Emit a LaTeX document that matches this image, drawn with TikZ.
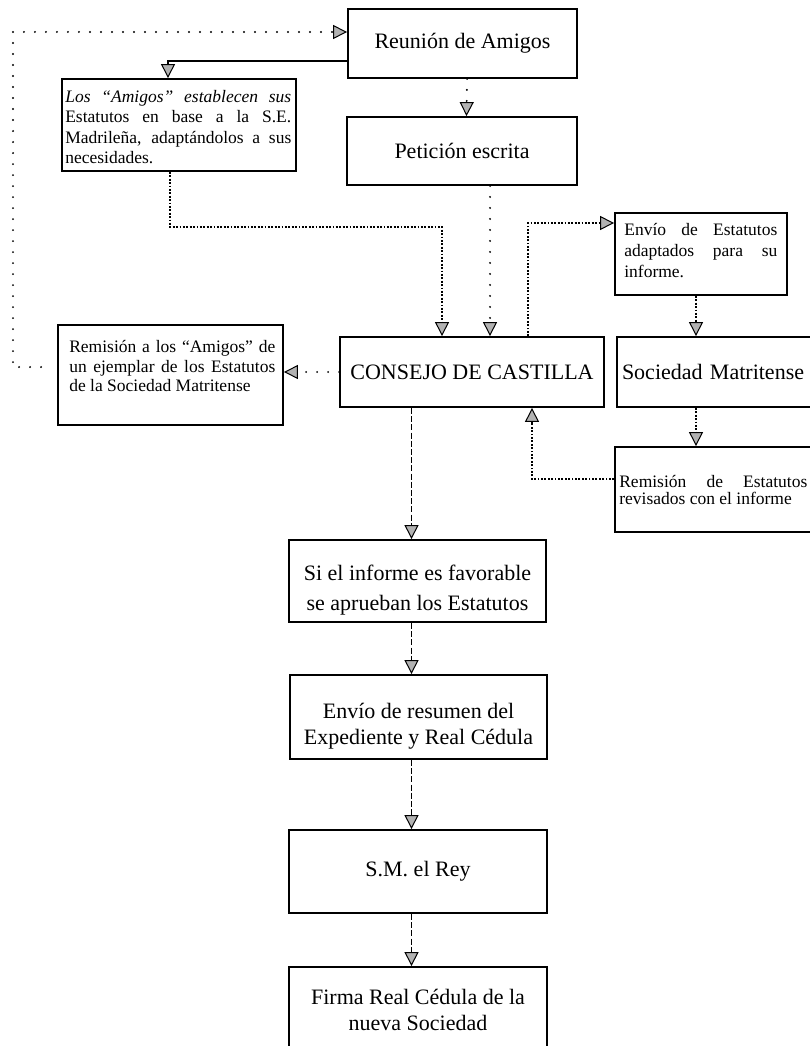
\documentclass[tikz,border=0pt]{standalone}
\usepackage{fontspec}
\setmainfont{Liberation Serif}
\usetikzlibrary{arrows.meta}
\tikzset{
  box/.style={draw, line width=1.8pt, inner sep=0pt},
  big/.style={font=\fontsize{22}{26}\selectfont, align=center},
  small/.style={font=\fontsize{17.5}{#1}\selectfont, align=justify, inner sep=0pt, anchor=north west},
  small/.default=19,
  tip/.style={-{Triangle[width=14pt,length=14pt,fill=gray!60,color=black,line width=1pt]}},
  sparse/.style={tip, line width=2.2pt, dash pattern=on 0pt off 11pt, line cap=round},
  dense/.style={tip, line width=1.8pt, dash pattern=on 1.8pt off 1.6pt},
  dashline/.style={tip, line width=1.7pt, dash pattern=on 6pt off 2.2pt},
  solidline/.style={tip, line width=1.6pt},
}
\begin{document}
\begin{tikzpicture}[x=1pt,y=-1pt]
\useasboundingbox (0,0) rectangle (810,1046);
\fill[white] (0,0) rectangle (810,1046);
\clip (0,0) rectangle (810,1046);

% boxes
\node[box, big, minimum width=229pt, minimum height=69pt] (reunion) at (462.5,43.5) {Reunión de Amigos};
\node[box, minimum width=234pt, minimum height=92pt] (amigos) at (179,125) {};
\node[small=20.5, text width=226pt] (amigosT) at ([xshift=4pt,yshift=-12pt]amigos.north west)
  {\textit{Los “Amigos” establecen sus}\linebreak Estatutos en base a la S.E.\linebreak Madrileña, adaptándolos a sus\linebreak necesidades.};
\node[box, big, minimum width=230pt, minimum height=68pt] (peticion) at (462,151) {Petición escrita};
\node[box, minimum width=225pt, minimum height=100pt] (remA) at (170.5,375) {};
\node[small=19.5, text width=206pt] (remAT) at ([xshift=12pt,yshift=-16.5pt]remA.north west)
  {Remisión a los “Amigos” de\linebreak un ejemplar de los Estatutos\linebreak de la Sociedad Matritense};
\node[box, big, minimum width=264pt, minimum height=70pt] (consejo) at (472,372) {CONSEJO DE CASTILLA};
\node[box, minimum width=172pt, minimum height=82pt] (envio) at (701,254) {};
\node[small=21, text width=153pt] (envioT) at ([xshift=10pt,yshift=-11.5pt]envio.north west)
  {Envío de Estatutos\linebreak adaptados para su\linebreak informe.};
\node[box, big, align=left, text width=200pt, inner xsep=5pt, minimum height=70pt] (sociedad) at (722,372) {Sociedad Matritense};
\node[box, minimum width=220pt, minimum height=85pt] (remE) at (725,489.5) {};
\node[small=17.5, text width=188pt] (remET) at ([xshift=5pt,yshift=-29pt]remE.north west)
  {Remisión de Estatutos\linebreak revisados con el informe};
\node[box, big, minimum width=257pt, minimum height=82pt] (si) at (417.5,581) {\rule{0pt}{33pt}Si el informe es favorable\\[4pt]se aprueban los Estatutos};
\node[box, big, minimum width=257pt, minimum height=84pt] (resumen) at (418.5,717) {\rule{0pt}{33pt}Envío de resumen del\\Expediente y Real Cédula};
\node[box, big, minimum width=258pt, minimum height=83pt] (rey) at (418,871.5) {S.M. el Rey};
\node[box, big, minimum width=258pt, minimum height=86pt] (firma) at (418,1010) {Firma Real Cédula de la\\nueva Sociedad};

% corner coordinates
\coordinate (c0) at (13,367);
\coordinate (c1) at (13,32);
\coordinate (k1) at (442,227);
\coordinate (k2) at (528,223);
\coordinate (k3) at (696,420);
\coordinate (k4) at (532,479);
\coordinate (k5) at (411.5,600);

% connectors
\draw[sparse, shorten <=16pt] (c0 -| remA.west) -- (c0) -- (c1) -- (c1 -| reunion.west);
\draw[solidline] ([yshift=18pt]reunion.south west) -| ([xshift=-11pt]amigos.north);
\draw[sparse] ([xshift=4.5pt]reunion.south) -- ([xshift=4.5pt]peticion.north);
\draw[sparse] ([xshift=28pt]peticion.south) -- ([xshift=28pt]peticion.south |- consejo.north);
\draw[dense] ([xshift=-9pt]amigos.south) |- (k1) -- (k1 |- consejo.north);
\draw[dense] (k2 |- consejo.north) -- (k2) -- (k2 -| envio.west);
\draw[dense] (k3 |- envio.south) -- (k3 |- sociedad.north);
\draw[dense] (k3 |- sociedad.south) -- (k3 |- remE.north);
\draw[dense] (k4 -| remE.west) -- (k4) -- (k4 |- consejo.south);
\draw[sparse] (consejo.west) -- (consejo.west -| remA.east);
\draw[dashline] (k5 |- consejo.south) -- (k5 |- si.north);
\draw[dashline] (k5 |- si.south) -- (k5 |- resumen.north);
\draw[dashline] (k5 |- resumen.south) -- (k5 |- rey.north);
\draw[dashline] (k5 |- rey.south) -- (k5 |- firma.north);
\end{tikzpicture}
\end{document}
